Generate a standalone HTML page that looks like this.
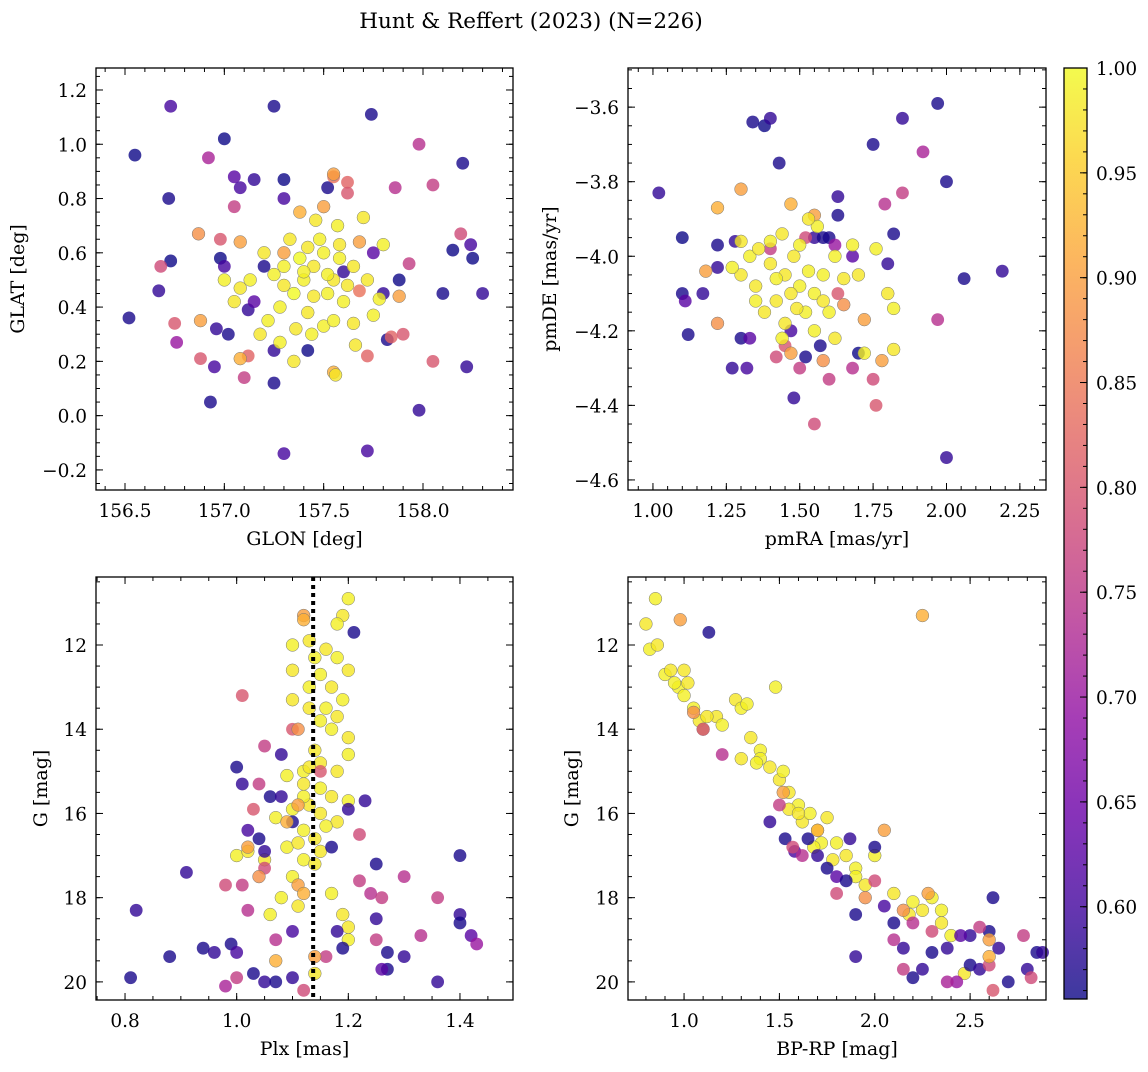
<!DOCTYPE html>
<html><head><meta charset="utf-8"><style>
body{margin:0;background:#fff;}
svg text{font-family:"DejaVu Serif","Liberation Serif",serif;fill:#000;}
</style></head><body>
<svg id="c" width="1148" height="1067" xmlns="http://www.w3.org/2000/svg">
<text x="531" y="28" font-size="21.5" text-anchor="middle">Hunt &amp; Reffert (2023) (N=226)</text>
</svg>
<script>
// panel 1: [GLON, GLAT, prob]
const glonGlat=[[156.52,0.36,0.6],[156.55,0.96,0.58],[156.73,1.14,0.64],[156.72,0.8,0.6],[156.73,0.57,0.57],[156.67,0.46,0.62],[156.93,0.05,0.6],[156.95,0.18,0.64],[156.96,0.32,0.62],[156.98,0.58,0.58],[157.0,1.02,0.59],[157.05,0.88,0.66],[157.08,0.84,0.64],[157.15,0.87,0.62],[157.25,1.14,0.6],[157.25,0.12,0.6],[157.3,-0.14,0.64],[157.3,0.87,0.58],[157.3,0.8,0.64],[157.12,0.39,0.62],[157.15,0.42,0.66],[157.2,0.55,0.6],[157.25,0.24,0.62],[157.42,0.24,0.58],[157.52,0.84,0.6],[157.6,0.53,0.62],[157.72,-0.13,0.64],[157.74,1.11,0.6],[157.75,0.6,0.66],[157.8,0.45,0.62],[157.82,0.28,0.6],[157.88,0.5,0.58],[157.98,0.02,0.62],[158.1,0.45,0.6],[158.15,0.61,0.58],[158.2,0.93,0.6],[158.22,0.18,0.62],[158.24,0.63,0.64],[158.25,0.58,0.58],[158.3,0.45,0.62],[157.02,0.3,0.6],[157.0,0.55,0.64],[156.76,0.27,0.7],[156.92,0.95,0.72],
[156.68,0.55,0.78],[156.75,0.34,0.8],[156.88,0.21,0.8],[157.05,0.77,0.76],[157.1,0.14,0.76],[157.12,0.22,0.82],[157.55,0.88,0.84],[157.62,0.86,0.82],[157.62,0.82,0.8],[157.72,0.22,0.82],[157.98,1.0,0.74],[158.05,0.85,0.76],[158.05,0.2,0.8],[158.19,0.67,0.78],[157.84,0.29,0.82],[157.9,0.3,0.8],[157.86,0.84,0.74],[157.93,0.56,0.76],[156.98,0.65,0.8],[157.68,0.46,0.84],
[156.87,0.67,0.88],[156.88,0.35,0.9],[157.08,0.21,0.92],[157.08,0.64,0.9],[157.55,0.16,0.92],[157.5,0.77,0.9],[157.38,0.75,0.92],[157.88,0.44,0.9],[157.68,0.64,0.9],[157.55,0.89,0.9],[157.3,0.6,0.9],
[157.4,0.5,0.99],[157.45,0.55,0.98],[157.35,0.45,1.0],[157.5,0.6,0.99],[157.55,0.5,0.98],[157.3,0.55,0.99],[157.42,0.38,0.98],[157.6,0.42,0.99],[157.65,0.55,0.98],[157.48,0.65,0.99],[157.33,0.65,0.98],[157.38,0.58,1.0],[157.52,0.45,0.99],[157.46,0.72,0.98],[157.57,0.7,0.99],[157.7,0.73,0.98],[157.25,0.52,0.99],[157.2,0.6,0.98],[157.28,0.4,0.99],[157.36,0.32,0.98],[157.5,0.33,0.99],[157.65,0.34,0.98],[157.75,0.37,0.99],[157.66,0.26,0.98],[157.78,0.43,0.99],[157.72,0.5,0.98],[157.8,0.63,0.99],[157.18,0.3,0.98],[157.22,0.35,0.99],[157.08,0.47,0.98],[157.0,0.5,0.99],[157.05,0.42,0.98],[157.13,0.5,0.99],[157.42,0.62,0.98],[157.58,0.58,0.99],[157.62,0.48,0.98],[157.35,0.2,0.98],[157.55,0.35,0.99],[157.45,0.44,0.98],[157.4,0.53,0.99],[157.3,0.48,0.98],[157.52,0.52,0.99],[157.58,0.63,0.98],[157.44,0.3,0.99],[157.56,0.15,0.98],[157.28,0.27,0.99]];
// panel 2: [pmRA, pmDE, prob]
const pmRaDe=[[1.02,-3.83,0.62],[1.1,-3.95,0.58],[1.1,-4.1,0.6],[1.11,-4.12,0.66],[1.12,-4.21,0.6],[1.17,-4.1,0.62],[1.22,-3.97,0.6],[1.28,-3.96,0.62],[1.3,-4.22,0.6],[1.32,-4.3,0.64],[1.34,-3.64,0.6],[1.38,-3.65,0.58],[1.4,-3.63,0.62],[1.43,-3.75,0.6],[1.48,-4.38,0.62],[1.57,-4.24,0.6],[1.63,-3.84,0.62],[1.63,-3.89,0.6],[1.7,-4.26,0.58],[1.75,-3.7,0.6],[1.8,-4.02,0.62],[1.82,-3.94,0.6],[1.85,-3.63,0.62],[1.97,-3.59,0.6],[2.0,-3.8,0.6],[2.0,-4.54,0.62],[2.06,-4.06,0.6],[2.19,-4.04,0.62],[1.6,-3.95,0.6],[1.55,-3.95,0.62],[1.68,-4.0,0.66],[1.47,-4.2,0.64],[1.52,-4.27,0.6],[1.22,-4.03,0.62],[1.33,-4.22,0.66],[1.27,-4.3,0.62],[1.58,-3.95,0.6],[1.62,-3.97,0.7],
[1.55,-4.45,0.78],[1.75,-4.33,0.78],[1.76,-4.4,0.8],[1.6,-4.33,0.76],[1.68,-4.3,0.74],[1.79,-3.86,0.74],[1.85,-3.83,0.76],[1.92,-3.72,0.72],[1.97,-4.17,0.74],[1.45,-4.24,0.8],[1.42,-4.27,0.78],[1.4,-3.98,0.76],[1.52,-3.95,0.78],[1.63,-4.1,0.8],[1.5,-4.3,0.76],
[1.18,-4.04,0.9],[1.22,-3.87,0.92],[1.22,-4.18,0.88],[1.3,-3.82,0.9],[1.47,-3.86,0.92],[1.55,-3.89,0.9],[1.58,-4.28,0.88],[1.47,-4.26,0.9],[1.78,-4.28,0.9],[1.72,-4.17,0.9],[1.65,-4.13,0.88],
[1.5,-4.08,0.99],[1.45,-4.05,0.98],[1.55,-4.1,0.99],[1.48,-4.0,0.98],[1.52,-4.15,0.99],[1.42,-4.12,0.98],[1.58,-4.05,0.99],[1.4,-4.02,0.98],[1.6,-4.15,0.99],[1.35,-4.08,0.98],[1.62,-4.0,0.99],[1.45,-4.18,0.98],[1.55,-4.2,0.99],[1.38,-4.15,0.98],[1.5,-3.97,0.99],[1.44,-3.94,0.98],[1.56,-3.92,0.99],[1.65,-4.06,0.98],[1.68,-3.97,0.99],[1.7,-4.05,0.98],[1.33,-4.0,0.99],[1.3,-4.05,0.98],[1.35,-4.12,0.99],[1.47,-4.1,0.98],[1.53,-4.04,0.99],[1.58,-4.12,0.98],[1.42,-4.06,0.99],[1.49,-4.14,0.98],[1.4,-3.96,0.99],[1.36,-3.98,0.98],[1.76,-3.98,0.99],[1.8,-4.1,0.98],[1.82,-4.14,0.99],[1.82,-4.25,0.98],[1.72,-4.26,0.99],[1.3,-3.96,0.98],[1.27,-4.03,0.99],[1.62,-4.22,0.98],[1.44,-4.22,0.99],[1.53,-3.9,0.98]];
// panel 3: [Plx, G, prob]
const plxG=[[1.2,10.9,0.99],[1.19,11.3,0.98],[1.18,11.5,0.99],[1.13,11.9,0.98],[1.1,12.0,0.99],[1.1,12.6,0.98],[1.14,12.3,0.99],[1.16,12.1,0.98],[1.18,12.3,0.99],[1.2,12.6,0.98],[1.15,12.7,0.99],[1.17,13.0,0.98],[1.13,13.0,0.99],[1.1,13.3,0.98],[1.19,13.3,0.99],[1.13,13.5,0.98],[1.16,13.5,0.99],[1.18,13.7,0.98],[1.15,13.8,0.99],[1.2,14.2,0.98],[1.17,14.0,0.99],[1.14,14.5,0.98],[1.2,14.6,0.99],[1.15,14.8,0.98],[1.12,15.0,0.99],[1.18,15.0,0.98],[1.15,15.4,0.99],[1.12,15.3,0.98],[1.09,15.1,0.99],[1.17,15.6,0.98],[1.2,15.7,0.99],[1.13,15.8,0.98],[1.1,15.9,0.99],[1.15,16.0,0.98],[1.07,16.1,0.99],[1.18,16.2,0.98],[1.12,16.4,0.99],[1.14,16.6,0.98],[1.09,16.8,0.99],[1.15,16.9,0.98],[1.12,17.1,0.99],[1.05,17.1,0.98],[1.1,17.5,0.99],[1.14,17.2,0.98],[1.17,17.9,0.99],[1.11,18.2,0.98],[1.08,18.0,0.99],[1.19,18.4,0.98],[1.06,18.4,0.99],[1.2,18.7,0.98],[1.2,19.0,0.99],[1.14,19.8,0.98],[1.0,17.0,0.99],[1.02,16.9,0.98],[1.16,16.3,0.99],[1.11,16.7,0.98],[1.12,15.6,0.99],[1.13,14.9,0.98],
[0.81,19.9,0.6],[0.82,18.3,0.62],[0.88,19.4,0.6],[0.91,17.4,0.62],[0.94,19.2,0.6],[0.96,19.3,0.62],[0.99,19.1,0.6],[1.0,19.3,0.64],[1.03,19.8,0.6],[1.05,20.0,0.62],[1.07,20.0,0.6],[1.1,19.9,0.62],[1.0,14.9,0.6],[1.01,15.3,0.62],[1.02,16.4,0.64],[1.04,16.6,0.6],[1.05,16.9,0.62],[1.06,15.6,0.6],[1.08,15.6,0.62],[1.1,16.2,0.6],[1.2,15.9,0.62],[1.21,11.7,0.6],[1.23,15.7,0.62],[1.25,17.2,0.6],[1.25,18.5,0.62],[1.27,19.7,0.6],[1.26,19.7,0.66],[1.3,19.4,0.62],[1.27,19.3,0.6],[1.36,20.0,0.62],[1.4,17.0,0.6],[1.4,18.4,0.62],[1.42,18.9,0.66],[1.43,19.1,0.7],[1.4,18.6,0.6],[1.18,18.8,0.62],[1.19,19.2,0.6],[1.08,14.6,0.62],[1.17,16.8,0.6],[1.1,18.8,0.64],
[1.01,13.2,0.8],[0.98,17.7,0.78],[1.01,17.7,0.76],[1.02,18.3,0.74],[1.0,19.9,0.76],[0.98,20.1,0.72],[1.04,15.3,0.76],[1.03,15.9,0.8],[1.05,17.3,0.78],[1.12,20.2,0.78],[1.22,17.6,0.76],[1.24,17.9,0.74],[1.26,18.0,0.76],[1.3,17.5,0.74],[1.36,18.0,0.76],[1.33,18.9,0.74],[1.25,19.0,0.76],[1.22,16.5,0.78],[1.15,15.0,0.8],[1.16,19.4,0.76],[1.07,19.0,0.74],[1.05,14.4,0.76],[1.1,14.0,0.8],
[1.12,11.3,0.9],[1.12,11.4,0.92],[1.11,14.0,0.88],[1.11,15.8,0.9],[1.09,16.2,0.92],[1.02,16.8,0.9],[1.04,17.5,0.88],[1.11,17.7,0.9],[1.12,17.9,0.92],[1.14,19.4,0.9],[1.07,19.5,0.92]];
// panel 4: [BP-RP, G, prob]
const colorG=[[0.85,10.9,0.99],[0.8,11.5,0.98],[0.82,12.1,0.99],[0.86,12.0,0.98],[0.9,12.7,0.99],[0.93,12.6,0.98],[0.97,13.0,0.99],[1.0,12.6,0.98],[1.0,13.2,0.99],[1.02,12.9,0.98],[1.05,13.5,0.99],[1.08,13.8,0.98],[1.1,14.0,0.99],[1.17,13.7,0.98],[1.2,13.9,0.99],[1.27,13.3,0.98],[1.3,13.5,0.99],[1.3,14.7,0.98],[1.33,13.4,0.99],[1.35,14.2,0.98],[1.4,14.5,0.99],[1.45,14.9,0.98],[1.48,13.0,0.99],[1.5,15.2,0.98],[1.52,15.0,0.99],[1.55,15.5,0.98],[1.6,15.8,0.99],[1.62,16.2,0.98],[1.66,16.0,0.99],[1.7,16.4,0.98],[1.72,16.7,0.99],[1.75,16.1,0.98],[1.8,16.7,0.99],[1.85,17.0,0.98],[1.9,17.3,0.99],[1.95,17.7,0.98],[2.0,17.0,0.99],[2.1,17.9,0.98],[2.2,18.1,0.99],[2.25,18.3,0.98],[2.3,18.0,0.99],[2.35,18.6,0.98],[2.4,18.9,0.99],[2.47,19.8,0.98],[2.25,11.3,0.92],[1.4,14.7,0.99],[1.55,15.9,0.98],[1.68,16.8,0.99],[1.78,17.1,0.98],[1.9,17.5,0.99],[2.18,18.4,0.98],[2.35,18.3,0.99],[0.95,12.9,0.99],[1.12,13.7,0.98],[1.38,14.8,0.99],[1.6,16.0,0.98],
[1.13,11.7,0.6],[1.45,16.2,0.62],[1.53,16.6,0.6],[1.58,16.9,0.64],[1.65,16.6,0.6],[1.7,17.0,0.62],[1.75,17.3,0.6],[1.8,17.5,0.66],[1.85,17.6,0.6],[1.87,16.6,0.62],[1.9,18.4,0.6],[1.9,19.4,0.62],[2.0,16.8,0.6],[2.05,18.2,0.64],[2.1,18.6,0.6],[2.15,19.2,0.62],[2.2,19.9,0.6],[2.25,19.7,0.62],[2.3,19.3,0.6],[2.38,19.2,0.62],[2.43,20.0,0.7],[2.5,19.6,0.6],[2.55,19.7,0.62],[2.62,18.0,0.6],[2.65,19.2,0.62],[2.7,20.0,0.6],[2.8,19.7,0.62],[2.85,19.3,0.6],[2.88,19.3,0.62],[2.6,18.8,0.6],[2.5,18.9,0.62],[2.45,18.9,0.66],
[1.1,14.0,0.78],[1.2,14.6,0.74],[1.5,15.8,0.76],[1.57,16.8,0.78],[1.62,17.0,0.74],[1.8,17.9,0.78],[2.1,19.0,0.74],[2.15,19.7,0.76],[2.3,18.8,0.78],[2.38,20.0,0.72],[2.55,18.7,0.76],[2.6,19.6,0.78],[2.62,20.2,0.8],[2.78,18.9,0.76],[2.82,19.9,0.78],[2.2,18.6,0.74],[2.0,17.6,0.78],
[0.98,11.4,0.9],[1.05,13.6,0.88],[1.52,15.5,0.9],[1.7,16.4,0.92],[2.05,16.4,0.9],[2.15,18.3,0.88],[2.28,17.9,0.9],[2.6,19.4,0.92],[2.6,19.0,0.9],[1.95,18.0,0.88]];
const cbTicks=[0.60,0.65,0.70,0.75,0.80,0.85,0.90,0.95,1.00];
const plxRef=[1.137];

const NS="http://www.w3.org/2000/svg";
const svg=document.getElementById('c');
const VMIN=0.556,VMAX=1.0;
const TF=18.5, LF=19;
const PL=[[13,8,135],[65,4,157],[106,0,168],[143,13,164],[177,42,144],[204,71,120],[225,100,98],[242,132,75],[252,166,54],[252,206,37],[240,249,33]];
function plasma(t){t=Math.max(0,Math.min(1,t));const f=t*10,i=Math.min(9,Math.floor(f)),r=f-i;const a=PL[i],b=PL[i+1];return 'rgb('+a.map((v,k)=>Math.round(v+(b[k]-v)*r)).join(',')+')';}
function mk(tag,attrs,parent){const e=document.createElementNS(NS,tag);for(const k in attrs)e.setAttribute(k,attrs[k]);(parent||svg).appendChild(e);return e;}
function fmt(v,d){return v.toFixed(d).replace('-','\u2212');}
function shade(p){return p<0.7? p-0.035 : p;}

function panel(o){
  const {x0,x1,y0,y1,xmin,xmax,ymin,ymax,inv,data,xMaj,xMin,yMaj,yMin,xd,yd,xlab,ylab,name}=o;
  const g=mk('g',{});
  
  
  const sx=v=>x0+(v-xmin)/(xmax-xmin)*(x1-x0);
  const sy=v=>inv? y0+(v-ymin)/(ymax-ymin)*(y1-y0) : y1-(v-ymin)/(ymax-ymin)*(y1-y0);
  const cg=mk('g',{},g);
  
  
  data.forEach(d=>{
    const c=mk('circle',{cx:sx(d[0]),cy:sy(d[1]),r:6.4,fill:plasma((shade(d[2])-VMIN)/(VMAX-VMIN)),'fill-opacity':0.8,stroke:d[2]>0.85?'#777':'none','stroke-width':0.5},cg);
    
    
  });
  if(o.vline){o.vline.forEach(v=>{const l=mk('line',{x1:sx(v),x2:sx(v),y1:y0,y2:y1,stroke:'#000','stroke-width':4,'stroke-dasharray':'4,4'},g);
    
    });}
  const eps=1e-9;
  const tk=mk('g',{stroke:'#000','stroke-width':1},g);
  for(let v=Math.ceil(xmin/xMin-eps)*xMin;v<=xmax+eps;v+=xMin){const X=sx(v);mk('line',{x1:X,x2:X,y1:y1,y2:y1-4},tk);mk('line',{x1:X,x2:X,y1:y0,y2:y0+4},tk);}
  for(let v=Math.ceil(ymin/yMin-eps)*yMin;v<=ymax+eps;v+=yMin){const Y=sy(v);mk('line',{x1:x0,x2:x0+4,y1:Y,y2:Y},tk);mk('line',{x1:x1,x2:x1-4,y1:Y,y2:Y},tk);}
  for(let v=Math.ceil(xmin/xMaj-eps)*xMaj;v<=xmax+eps;v+=xMaj){const X=sx(v);mk('line',{x1:X,x2:X,y1:y1,y2:y1-7},tk);mk('line',{x1:X,x2:X,y1:y0,y2:y0+7},tk);
    const t=mk('text',{x:X,y:y1+27,'font-size':TF,'text-anchor':'middle'},g);t.textContent=fmt(v,xd);
    }
  for(let v=Math.ceil(ymin/yMaj-eps)*yMaj;v<=ymax+eps;v+=yMaj){const Y=sy(v);mk('line',{x1:x0,x2:x0+7,y1:Y,y2:Y},tk);mk('line',{x1:x1,x2:x1-7,y1:Y,y2:Y},tk);
    const t=mk('text',{x:x0-9,y:Y+7,'font-size':TF,'text-anchor':'end'},g);t.textContent=fmt(Math.abs(v)<eps?0:v,yd);
    }
  mk('rect',{x:x0,y:y0,width:x1-x0,height:y1-y0,fill:'none',stroke:'#000','stroke-width':1.3},g);
  const xl=mk('text',{x:(x0+x1)/2,y:y1+55,'font-size':LF,'text-anchor':'middle'},g);xl.textContent=xlab;
  
  const yx=o.ylx, yy=(y0+y1)/2;
  const yl=mk('text',{x:yx,y:yy,'font-size':LF,'text-anchor':'middle',transform:`rotate(-90 ${yx} ${yy})`},g);yl.textContent=ylab;
  
}
panel({name:'glon-glat-panel',x0:96,x1:513,y0:68,y1:490,xmin:156.354,xmax:158.453,ymin:-0.274,ymax:1.281,data:glonGlat,xMaj:0.5,xMin:0.1,yMaj:0.2,yMin:0.05,xd:1,yd:1,xlab:'GLON [deg]',ylab:'GLAT [deg]',ylx:24});
panel({name:'pm-panel',x0:628,x1:1046,y0:68,y1:490,xmin:0.915,xmax:2.339,ymin:-4.627,ymax:-3.495,data:pmRaDe,xMaj:0.25,xMin:0.05,yMaj:0.2,yMin:0.05,xd:2,yd:1,xlab:'pmRA [mas/yr]',ylab:'pmDE [mas/yr]',ylx:556});
panel({name:'plx-g-panel',x0:96,x1:513,y0:577,y1:1000,xmin:0.748,xmax:1.495,ymin:10.385,ymax:20.43,inv:true,data:plxG,xMaj:0.2,xMin:0.05,yMaj:2,yMin:0.5,xd:1,yd:0,xlab:'Plx [mas]',ylab:'G [mag]',ylx:47,vline:plxRef});
panel({name:'cmd-panel',x0:628,x1:1046,y0:577,y1:1000,xmin:0.706,xmax:2.898,ymin:10.385,ymax:20.43,inv:true,data:colorG,xMaj:0.5,xMin:0.1,yMaj:2,yMin:0.5,xd:1,yd:0,xlab:'BP-RP [mag]',ylab:'G [mag]',ylx:578});

// colorbar
const cb=mk('g',{});


const defs=mk('defs',{},cb);
const lg=mk('linearGradient',{id:'pg',x1:0,y1:1,x2:0,y2:0},defs);
for(let i=0;i<=20;i++){mk('stop',{offset:i/20,'stop-color':plasma(i/20)},lg);}
const cx0=1064,cx1=1087,cy0=68,cy1=999;
mk('rect',{x:cx0,y:cy0,width:cx1-cx0,height:cy1-cy0,fill:'url(#pg)','fill-opacity':0.8},cb);
mk('rect',{x:cx0,y:cy0,width:cx1-cx0,height:cy1-cy0,fill:'none',stroke:'#000','stroke-width':1.3},cb);
const cy=v=>cy1-(v-VMIN)/(VMAX-VMIN)*(cy1-cy0);
for(let v=0.56;v<=1.0001;v+=0.01){mk('line',{x1:cx1,x2:cx1-4,y1:cy(v),y2:cy(v),stroke:'#000'},cb);}
cbTicks.forEach(v=>{const Y=cy(v);mk('line',{x1:cx1,x2:cx1-7,y1:Y,y2:Y,stroke:'#000'},cb);
  const t=mk('text',{x:cx1+9,y:Y+7,'font-size':TF},cb);t.textContent=v.toFixed(2);
  });
</script>
</body></html>
